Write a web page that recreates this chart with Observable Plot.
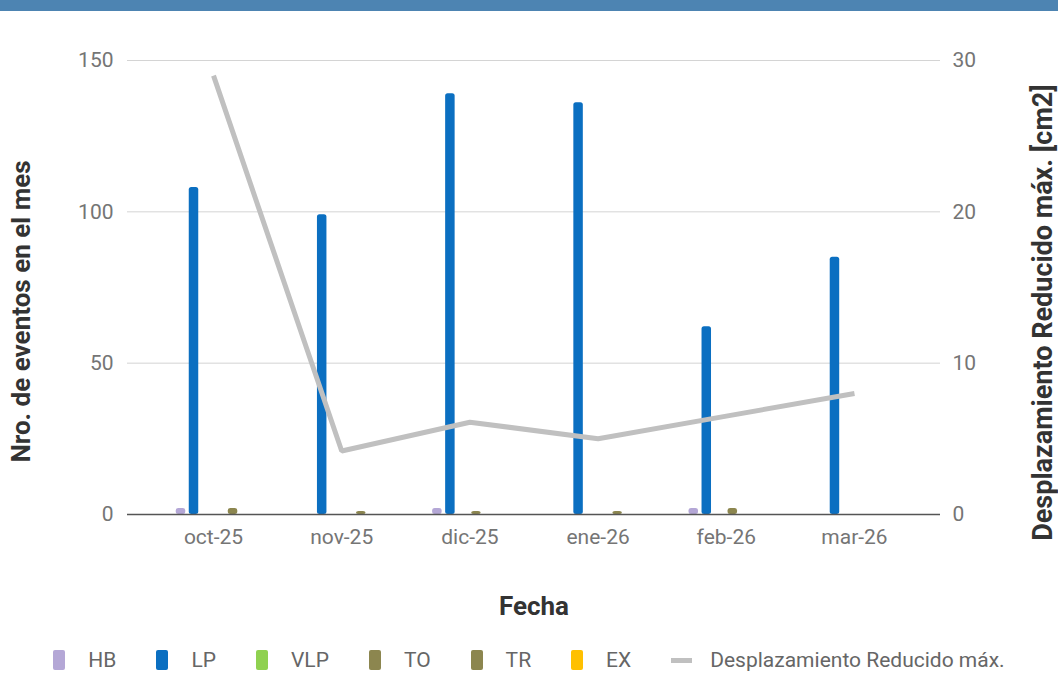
<!DOCTYPE html>
<html>
<head>
<meta charset="utf-8">
<script src="https://cdn.jsdelivr.net/npm/d3@7"></script>
<script src="https://cdn.jsdelivr.net/npm/@observablehq/plot@0.6"></script>
<style>
  html, body { margin: 0; padding: 0; background: #fff; font-family: Roboto, "Noto Sans", sans-serif; }
  #header { height: 11px; background: #4d84b2; }
  #chart { position: relative; width: 1058px; }
  #legend { display: flex; align-items: center; justify-content: center; height: 28px; margin-top: 17px; font-size: 21px; color: #666; }
  .item { display: flex; align-items: center; margin: 0 20px; }
  .sw { width: 12px; height: 20px; border-radius: 2px; margin-right: 23px; }
  .ln { width: 21px; height: 5px; background: #c0c0c0; margin-right: 18px; }
</style>
</head>
<body>
<div id="header"></div>
<div id="chart"></div>
<div id="legend"></div>
<script>
// ---- data ----
const months = ["oct-25", "nov-25", "dic-25", "ene-26", "feb-26", "mar-26"];
const seriesNames = ["HB", "LP", "VLP", "TO", "TR", "EX"];
const HB  = [2, 0, 2, 0, 2, 0];
const LP  = [108, 99, 139, 136, 62, 85];
const VLP = [0, 0, 0, 0, 0, 0];
const TO  = [0, 0, 1, 0, 2, 0];
const TR  = [2, 1, 0, 1, 0, 0];
const EX  = [0, 0, 0, 0, 0, 0];
const desplazamiento = [29, 4.2, 6.1, 5.0, 6.5, 8.0];
const leftTicks = [0, 50, 100, 150];
const rightTicks = [0, 10, 20, 30];
const lineLabel = "Desplazamiento Reducido máx.";

const colors = {HB: "#b4a7d6", LP: "#0b6fc1", VLP: "#8fd150", TO: "#8c864f", TR: "#8c864f", EX: "#ffc000"};
const seriesValues = {HB, LP, VLP, TO, TR, EX};

// group layout (in month-index units)
const barStep = 0.1015;
const barWidth = 0.074;
const bars = [];
seriesNames.forEach((s, j) => {
  seriesValues[s].forEach((v, i) => {
    const c = i + (j - (seriesNames.length - 1) / 2) * barStep;
    bars.push({month: months[i], series: s, value: v, x1: c - barWidth / 2, x2: c + barWidth / 2});
  });
});
const ratio = leftTicks[leftTicks.length - 1] / rightTicks[rightTicks.length - 1];
const line = desplazamiento.map((v, i) => ({i, y: v * ratio}));

const font = "Roboto, 'Noto Sans', sans-serif";

const plot = Plot.plot({
  width: 1058,
  height: 618,
  marginLeft: 127,
  marginRight: 118,
  marginTop: 49,
  marginBottom: 115,
  style: {fontFamily: font, fontSize: "21px", color: "#757575", background: "white"},
  x: {domain: [-0.671, 5.671], axis: null},
  y: {domain: [0, 150], axis: null},
  marks: [
    Plot.gridY(leftTicks, {stroke: "#d4d4d4", strokeOpacity: 1, strokeWidth: 1}),
    Plot.axisY(leftTicks, {anchor: "left", tickSize: 0, tickPadding: 14, label: null, fill: "#757575", fontSize: 21}),
    Plot.axisY(leftTicks, {anchor: "right", tickSize: 0, tickPadding: 12, label: null, tickFormat: d => d / ratio, fill: "#757575", fontSize: 21}),
    Plot.axisX(d3.range(months.length), {anchor: "bottom", tickSize: 0, tickPadding: 15, label: null, tickFormat: i => months[i], fill: "#757575", fontSize: 21}),
    Plot.rectY(bars.filter(d => d.value > 0), {x1: "x1", x2: "x2", y: "value", fill: d => colors[d.series], rx: 2.5}),
    Plot.ruleY([0], {stroke: "#555", strokeWidth: 1.5}),
    Plot.line(line, {x: "i", y: "y", stroke: "#c0c0c0", strokeWidth: 5, strokeLinejoin: "miter", strokeLinecap: "butt"}),
    Plot.text(["Nro. de eventos en el mes"], {frameAnchor: "left", rotate: -90, dx: -106, dy: 24, textAnchor: "middle", lineAnchor: "middle", fontWeight: "bold", fontSize: 26, fill: "#333"}),
    Plot.text(["Desplazamiento Reducido máx. [cm2]"], {frameAnchor: "right", rotate: -90, dx: 103, dy: 25, textAnchor: "middle", lineAnchor: "middle", fontWeight: "bold", fontSize: 27, fill: "#333"}),
    Plot.text(["Fecha"], {frameAnchor: "bottom", dy: 92, textAnchor: "middle", lineAnchor: "middle", fontWeight: "bold", fontSize: 26, fill: "#333"})
  ]
});
document.getElementById("chart").appendChild(plot);

// legend
const legend = document.getElementById("legend");
seriesNames.forEach(s => {
  const it = document.createElement("div");
  it.className = "item";
  const sw = document.createElement("div");
  sw.className = "sw";
  sw.style.background = colors[s];
  const t = document.createElement("span");
  t.textContent = s;
  it.appendChild(sw); it.appendChild(t);
  legend.appendChild(it);
});
{
  const it = document.createElement("div");
  it.className = "item";
  const ln = document.createElement("div");
  ln.className = "ln";
  const t = document.createElement("span");
  t.textContent = lineLabel;
  it.appendChild(ln); it.appendChild(t);
  legend.appendChild(it);
}
</script>
</body>
</html>
